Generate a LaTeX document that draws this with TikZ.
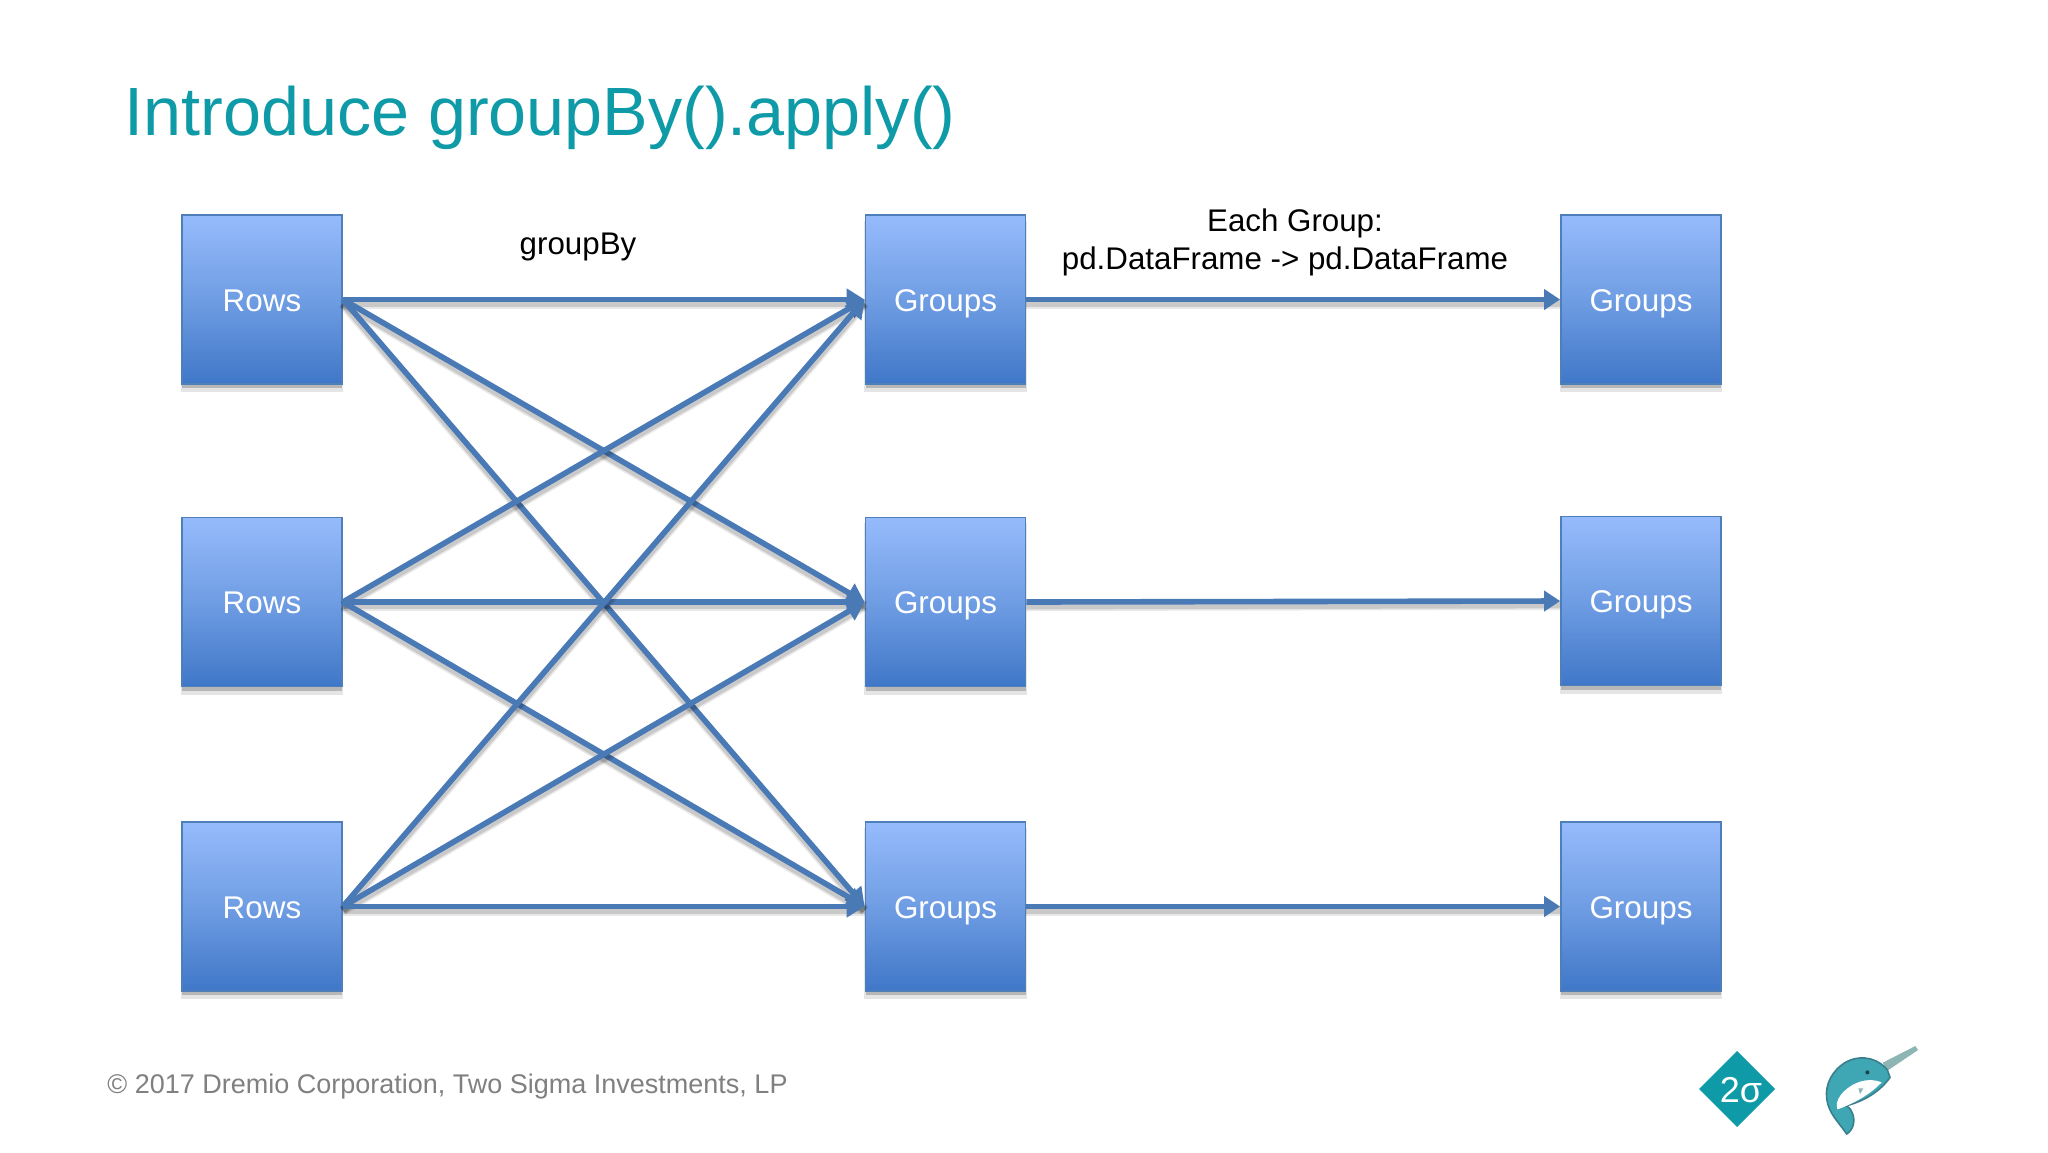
\documentclass[tikz,border=0pt]{standalone}
\usepackage{fontspec}
\setmainfont{Liberation Sans}
\usetikzlibrary{arrows.meta,shadows}
\definecolor{teal1}{HTML}{0E9AA7}
\definecolor{boxtop}{HTML}{96BBFC}
\definecolor{boxmid}{HTML}{6F9DE3}
\definecolor{boxbot}{HTML}{3F77C8}
\definecolor{boxline}{HTML}{4F7FB8}
\definecolor{wire}{HTML}{4A7AB6}
\definecolor{whale}{HTML}{3FA6B4}
\definecolor{whaleline}{HTML}{3A7F8C}
\definecolor{horn}{HTML}{8DB5B3}
\tikzset{
  box/.style={draw=boxline,line width=0.9pt,minimum width=80pt,minimum height=84.5pt,inner sep=0pt,
    top color=boxtop,bottom color=boxbot,middle color=boxmid,text=white,text height=1.17em,text depth=0pt,
    font=\fontsize{15.7}{19}\selectfont,
    general shadow={fill=black,fill opacity=.10,shadow xshift=0pt,shadow yshift=-3.4pt,shadow scale=1.015},
    general shadow={fill=black,fill opacity=.20,shadow xshift=0pt,shadow yshift=-2.2pt}},
  wirecast/.style={preaction={arrows=-,draw=black,draw opacity=.09,line width=5pt,transform canvas={yshift=-2pt}},
    preaction={arrows=-,draw=black,draw opacity=.13,line width=3.4pt,transform canvas={yshift=-2pt}}},
  fan/.style={draw=wire,line width=2.8pt,wirecast,-{Triangle[length=9pt,width=10.5pt]}},
  pass/.style={draw=wire,line width=2.8pt,wirecast,-{Triangle[length=8pt,width=10pt]}},
  lbl/.style={inner sep=0pt,text=black,font=\fontsize{15.65}{19}\selectfont}
}
\begin{document}
\begin{tikzpicture}[x=0.5pt,y=-0.5pt]
\useasboundingbox (0,0) rectangle (2048,1152);
\fill[white] (0,0) rectangle (2048,1152);
\node[anchor=west,inner sep=0pt,text=teal1,font=\fontsize{34.15}{40}\selectfont] (title) at (124,118) {Introduce groupBy().apply()};

\node[box] (r1) at (262,299.5) {Rows};
\node[box] (r2) at (262,602) {Rows};
\node[box] (r3) at (262,906.5) {Rows};
\node[box] (g1) at (945.5,299.5) {Groups};
\node[box] (g2) at (945.5,602) {Groups};
\node[box] (g3) at (945.5,906.5) {Groups};
\node[box] (o1) at (1641,299.5) {Groups};
\node[box] (o2) at (1641,601) {Groups};
\node[box] (o3) at (1641,906.5) {Groups};

\foreach \a in {r1,r2,r3}
  \foreach \b in {g1,g2,g3}
    \draw[fan] (\a.east) -- (\b.west);
\draw[pass] (g1.east) -- (o1.west);
\draw[pass] (g2.east) -- (o2.west);
\draw[pass] (g3.east) -- (o3.west);

\node[lbl] (l1) at (578,247) {groupBy};
\node[lbl] (l2) at (1295,223) {Each Group:};
\node[lbl] (l3) at (1285,261) {pd.DataFrame -> pd.DataFrame};
\node[anchor=west,inner sep=0pt,text=black!50,font=\fontsize{13.5}{17}\selectfont] (foot) at (107,1086) {© 2017 Dremio Corporation, Two Sigma Investments, LP};

% logos
\fill[teal1] (1737,1051) -- (1775,1089) -- (1737,1127) -- (1699,1089) -- cycle;
\node[text=white,inner sep=0pt,font=\fontsize{18}{22}\selectfont] (sig) at (1741,1090) {2σ};
\begin{scope}[shift={(1650,1020)},x=0.16667pt,y=-0.16667pt]
\fill[horn] (698,128) -- (796,78) -- (804,90) -- (712,152) -- cycle;
\fill[whale,draw=whaleline,line width=0.8pt]
  (712,150) .. controls (690,120) and (640,100) .. (590,125)
  .. controls (545,150) and (525,195) .. (530,235)
  .. controls (535,280) and (565,305) .. (590,342)
  .. controls (610,330) and (618,300) .. (605,275)
  .. controls (600,262) and (590,258) .. (585,258)
  .. controls (640,245) and (690,215) .. (720,172) -- cycle;
\fill[white] (695,187) .. controls (655,170) and (605,185) .. (572,225)
  .. controls (560,242) and (558,255) .. (562,268)
  .. controls (620,248) and (665,218) .. (695,187) -- cycle;
\fill[black!60!whale] (652,157) circle (6);
\fill[horn] (625,205) -- (640,205) -- (630,222) -- cycle;
\end{scope}
\end{tikzpicture}
\end{document}
